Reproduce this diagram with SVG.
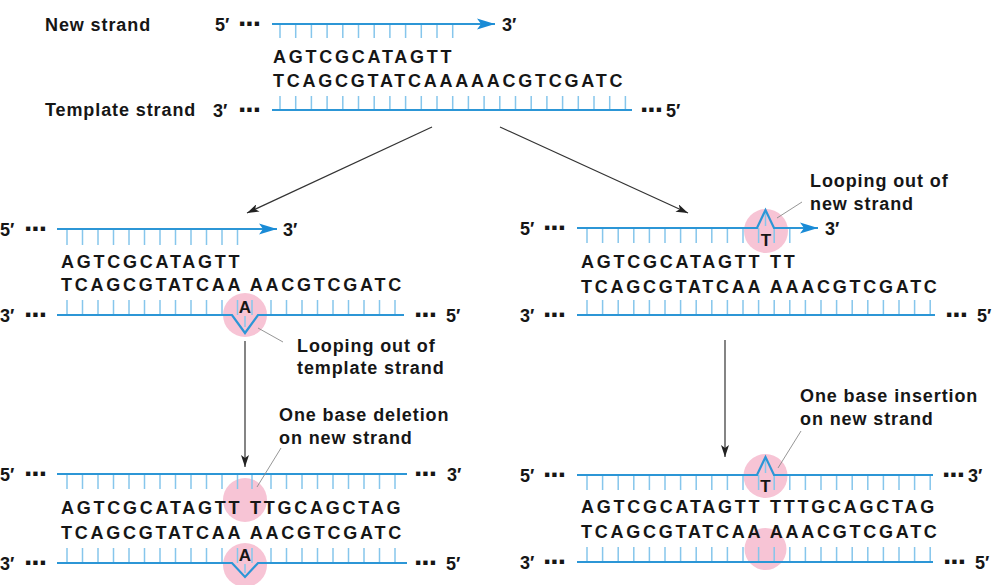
<svg xmlns="http://www.w3.org/2000/svg" width="999" height="585" viewBox="0 0 999 585">
<defs>
<style>
text{font-family:"Liberation Sans",Arial,sans-serif;fill:#161616}
.lbl{font-size:18px;font-weight:bold;letter-spacing:0.9px}
.seq{font-size:18px;font-weight:bold;letter-spacing:2.75px}
.end{font-size:18px;font-weight:bold}
.dots{font-size:30px;font-weight:bold;letter-spacing:-1px}
.base{font-size:17px;font-weight:bold;text-anchor:middle}
.strand{fill:none;stroke:#2c96d6;stroke-width:2.2}
.tick{fill:none;stroke:#86c6ec;stroke-width:1.5}
.spot{fill:#f7c4d5}
.lead{fill:none;stroke:#8a8a8a;stroke-width:0.9}
.conn{fill:none;stroke:#333;stroke-width:1.2}
</style>
<marker id="ah" viewBox="0 0 12 8" refX="12" refY="4" markerWidth="12" markerHeight="8" markerUnits="userSpaceOnUse" orient="auto"><path d="M0,0 L12,4 L0,8 L3,4 z" fill="#222"/></marker>
<marker id="sh" viewBox="0 0 18 12" refX="18" refY="6" markerWidth="18" markerHeight="12" markerUnits="userSpaceOnUse" orient="auto"><path d="M0,0.5 L18,6 L0,11.5 L4,6 z" fill="#1a8bd6"/></marker>
</defs>
<rect width="999" height="585" fill="#fff"/>

<g id="connectors">
<path class="conn" d="M432 127L247 213" marker-end="url(#ah)"/>
<path class="conn" d="M500 127L688 213" marker-end="url(#ah)"/>
<path class="conn" d="M245 341V467" marker-end="url(#ah)"/>
<path class="conn" d="M725 340V457" marker-end="url(#ah)"/>
</g>

<g id="top-duplex">
<text class="lbl" x="45" y="31">New strand</text>
<text class="end" x="215" y="31">5′</text>
<text class="dots" x="238" y="26">...</text>
<path class="tick" d="M280 24v14M295.7 24v14M311.4 24v14M327.1 24v14M342.8 24v14M358.5 24v14M374.2 24v14M389.9 24v14M405.6 24v14M421.3 24v14M437 24v14M452.7 24v14"/>
<path class="strand" d="M272 24H495" marker-end="url(#sh)"/>
<text class="end" x="502" y="31">3′</text>
<text class="seq" x="273" y="63">AGTCGCATAGTT</text>
<text class="seq" x="273" y="87">TCAGCGTATCAAAAACGTCGATC</text>
<text class="lbl" x="45" y="116">Template strand</text>
<text class="end" x="213" y="116.5">3′</text>
<text class="dots" x="238" y="112">...</text>
<path class="tick" d="M280 110v-14M295.7 110v-14M311.4 110v-14M327.1 110v-14M342.8 110v-14M358.5 110v-14M374.2 110v-14M389.9 110v-14M405.6 110v-14M421.3 110v-14M437 110v-14M452.7 110v-14M468.4 110v-14M484.1 110v-14M499.8 110v-14M515.5 110v-14M531.2 110v-14M546.9 110v-14M562.6 110v-14M578.3 110v-14M594 110v-14M609.7 110v-14M625.4 110v-14"/>
<path class="strand" d="M272 110H632"/>
<text class="dots" x="640" y="112">...</text>
<text class="end" x="666" y="116.5">5′</text>
</g>

<g id="template-loop">
<circle class="spot" cx="245" cy="315" r="22"/>
<text class="end" x="0" y="235.5">5′</text>
<text class="dots" x="24" y="231">...</text>
<path class="tick" d="M67 229v16M82.5 229v16M98 229v16M113.5 229v16M129 229v16M144.5 229v16M160 229v16M175.5 229v16M191 229v16M206.5 229v16M222 229v16M237.5 229v16"/>
<path class="strand" d="M57 229H277" marker-end="url(#sh)"/>
<text class="end" x="283" y="236">3′</text>
<text class="seq" x="61" y="268">AGTCGCATAGTT</text>
<text class="seq" x="61" y="291">TCAGCGTATCAA AACGTCGATC</text>
<text class="end" x="0" y="321.5">3′</text>
<text class="dots" x="24" y="317">...</text>
<path class="tick" d="M67 315v-15M82.5 315v-15M98 315v-15M113.5 315v-15M129 315v-15M144.5 315v-15M160 315v-15M175.5 315v-15M191 315v-15M206.5 315v-15M222 315v-15M237.5 315v-15M252 315v-15M271 315v-15M286.5 315v-15M302 315v-15M317.5 315v-15M333 315v-15M348.5 315v-15M364 315v-15M379.5 315v-15M395 315v-15M245 316v11"/>
<path class="strand" d="M57 315H232L245 333L258 315H404"/>
<text class="base" x="245" y="313">A</text>
<text class="dots" x="414" y="317">...</text>
<text class="end" x="446" y="321.5">5′</text>
<path class="lead" d="M258 328L283 342"/>
<text class="lbl" x="297" y="352">Looping out of</text>
<text class="lbl" x="297" y="374">template strand</text>
</g>

<g id="deletion-result">
<circle class="spot" cx="245" cy="500" r="22"/>
<circle class="spot" cx="245" cy="565" r="22"/>
<text class="end" x="0" y="480.5">5′</text>
<text class="dots" x="24" y="476">...</text>
<path class="tick" d="M67 474v15M82.5 474v15M98 474v15M113.5 474v15M129 474v15M144.5 474v15M160 474v15M175.5 474v15M191 474v15M206.5 474v15M222 474v15M237.5 474v15M252 474v15M271 474v15M286.5 474v15M302 474v15M317.5 474v15M333 474v15M348.5 474v15M364 474v15M379.5 474v15M395 474v15"/>
<path class="strand" d="M57 474H407"/>
<text class="dots" x="414" y="476">...</text>
<text class="end" x="447" y="480.5">3′</text>
<text class="seq" x="61" y="514">AGTCGCATAGTT TTGCAGCTAG</text>
<text class="seq" x="61" y="539">TCAGCGTATCAA AACGTCGATC</text>
<text class="end" x="0" y="569.5">3′</text>
<text class="dots" x="24" y="565">...</text>
<path class="tick" d="M67 563v-15M82.5 563v-15M98 563v-15M113.5 563v-15M129 563v-15M144.5 563v-15M160 563v-15M175.5 563v-15M191 563v-15M206.5 563v-15M222 563v-15M237.5 563v-15M252 563v-15M271 563v-15M286.5 563v-15M302 563v-15M317.5 563v-15M333 563v-15M348.5 563v-15M364 563v-15M379.5 563v-15M395 563v-15M245 564v9"/>
<path class="strand" d="M57 563H232L245 577L258 563H407"/>
<text class="base" x="245" y="561">A</text>
<text class="dots" x="414" y="565">...</text>
<text class="end" x="446" y="569.5">5′</text>
<path class="lead" d="M257 487L281 448"/>
<text class="lbl" x="279" y="421">One base deletion</text>
<text class="lbl" x="279" y="444">on new strand</text>
</g>

<g id="new-strand-loop">
<circle class="spot" cx="766" cy="231" r="22"/>
<text class="end" x="520" y="234.5">5′</text>
<text class="dots" x="543" y="230">...</text>
<path class="tick" d="M587 228v15M602.6 228v15M618.2 228v15M633.8 228v15M649.4 228v15M665 228v15M680.6 228v15M696.2 228v15M711.8 228v15M727.4 228v15M743 228v15M758.6 228v15M774.2 228v15M789.8 228v15M765.5 213v13"/>
<path class="strand" d="M577 228H757L765.5 210L774 228H818" marker-end="url(#sh)"/>
<text class="base" x="766" y="246">T</text>
<text class="end" x="825" y="235">3′</text>
<text class="seq" x="581" y="268">AGTCGCATAGTT TT</text>
<text class="seq" x="581" y="293">TCAGCGTATCAA AAACGTCGATC</text>
<text class="end" x="520" y="321.5">3′</text>
<text class="dots" x="543" y="317">...</text>
<path class="tick" d="M587 315v-15M602.6 315v-15M618.2 315v-15M633.8 315v-15M649.4 315v-15M665 315v-15M680.6 315v-15M696.2 315v-15M711.8 315v-15M727.4 315v-15M743 315v-15M758.6 315v-15M774.2 315v-15M789.8 315v-15M805.4 315v-15M821 315v-15M836.6 315v-15M852.2 315v-15M867.8 315v-15M883.4 315v-15M899 315v-15M914.6 315v-15M930.2 315v-15"/>
<path class="strand" d="M577 315H935"/>
<text class="dots" x="945" y="317">...</text>
<text class="end" x="977" y="321.5">5′</text>
<path class="lead" d="M777 218L802 202"/>
<text class="lbl" x="810" y="187">Looping out of</text>
<text class="lbl" x="810" y="210">new strand</text>
</g>

<g id="insertion-result">
<circle class="spot" cx="765.5" cy="476" r="22"/>
<circle class="spot" cx="765.5" cy="549" r="21"/>
<text class="end" x="520" y="481.5">5′</text>
<text class="dots" x="543" y="477">...</text>
<path class="tick" d="M587 475v15M602.6 475v15M618.2 475v15M633.8 475v15M649.4 475v15M665 475v15M680.6 475v15M696.2 475v15M711.8 475v15M727.4 475v15M743 475v15M758.6 475v15M774.2 475v15M789.8 475v15M805.4 475v15M821 475v15M836.6 475v15M852.2 475v15M867.8 475v15M883.4 475v15M899 475v15M914.6 475v15M930.2 475v15M765.5 460v13"/>
<path class="strand" d="M577 475H757L765.5 457L774 475H933"/>
<text class="base" x="765.5" y="492">T</text>
<text class="dots" x="942" y="477">...</text>
<text class="end" x="968" y="481.5">3′</text>
<text class="seq" x="581" y="513">AGTCGCATAGTT TTTGCAGCTAG</text>
<text class="seq" x="581" y="538">TCAGCGTATCAA AAACGTCGATC</text>
<text class="end" x="520" y="568.5">3′</text>
<text class="dots" x="543" y="564">...</text>
<path class="tick" d="M587 562v-15M602.6 562v-15M618.2 562v-15M633.8 562v-15M649.4 562v-15M665 562v-15M680.6 562v-15M696.2 562v-15M711.8 562v-15M727.4 562v-15M743 562v-15M758.6 562v-15M774.2 562v-15M789.8 562v-15M805.4 562v-15M821 562v-15M836.6 562v-15M852.2 562v-15M867.8 562v-15M883.4 562v-15M899 562v-15M914.6 562v-15M930.2 562v-15"/>
<path class="strand" d="M577 562H933"/>
<text class="dots" x="943" y="564">...</text>
<text class="end" x="975" y="568.5">5′</text>
<path class="lead" d="M778 468L801 431"/>
<text class="lbl" x="800" y="402">One base insertion</text>
<text class="lbl" x="800" y="425">on new strand</text>
</g>
</svg>
